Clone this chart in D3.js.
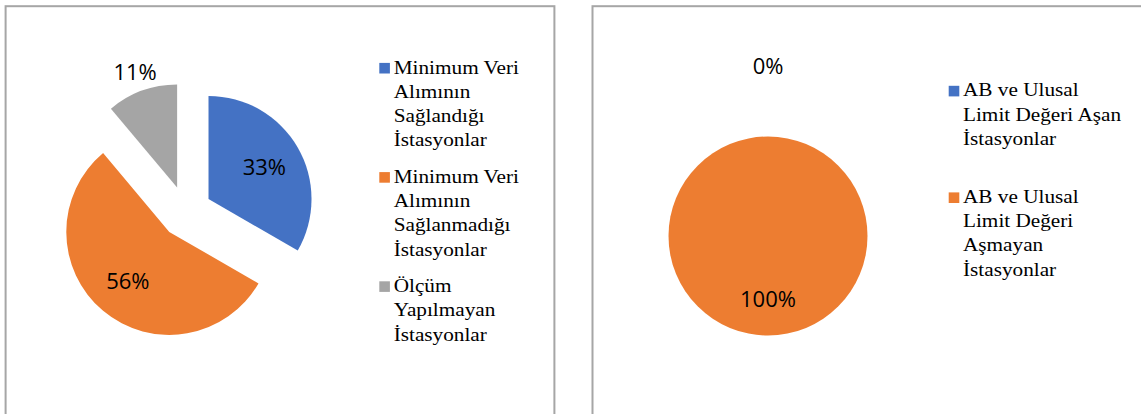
<!DOCTYPE html>
<html>
<head>
<meta charset="utf-8">
<script src="https://cdn.jsdelivr.net/npm/d3@7"></script>
<style>
  html, body { margin: 0; padding: 0; background: #fff; }
  svg { display: block; }
</style>
</head>
<body>
<svg id="chart" width="1141" height="414"></svg>
<script>
// ---------- data ----------
const leftCategories = [
  "Minimum Veri\nAlımının\nSağlandığı\nİstasyonlar",
  "Minimum Veri\nAlımının\nSağlanmadığı\nİstasyonlar",
  "Ölçüm\nYapılmayan\nİstasyonlar"
];
const leftValues = [33.33, 55.56, 11.11];

const rightCategories = [
  "AB ve Ulusal\nLimit Değeri Aşan\nİstasyonlar",
  "AB ve Ulusal\nLimit Değeri\nAşmayan\nİstasyonlar"
];
const rightValues = [0, 100];

const sliceColors = ["#4472C4", "#ED7D31", "#A5A5A5"];

// ---------- drawing ----------
const svg = d3.select("#chart");
const pct = d3.format(".0%");

// panel frames
svg.append("rect").attr("x", 5.6).attr("y", 6.2).attr("width", 548.8).attr("height", 430)
  .attr("fill", "none").attr("stroke", "#a6a6a6").attr("stroke-width", 2);
svg.append("rect").attr("x", 592.5).attr("y", 6.2).attr("width", 600).attr("height", 430)
  .attr("fill", "none").attr("stroke", "#a6a6a6").attr("stroke-width", 2);

function drawPie(opts) {
  const { values, cx, cy, r, explode, labelR, outerLabelR, outerThreshold } = opts;
  const total = d3.sum(values);
  const pie = d3.pie().sort(null).value(d => d)(values);
  const arc = d3.arc().innerRadius(0).outerRadius(r);
  const g = svg.append("g").attr("transform", `translate(${cx},${cy})`);

  pie.forEach((p, i) => {
    const mid = (p.startAngle + p.endAngle) / 2;
    const ox = explode * Math.sin(mid), oy = -explode * Math.cos(mid);
    if (p.endAngle > p.startAngle) {
      g.append("path")
        .attr("d", arc(p))
        .attr("transform", `translate(${ox},${oy})`)
        .attr("fill", sliceColors[i]);
    }
    const frac = p.value / total;
    const lr = frac < outerThreshold ? outerLabelR : labelR;
    g.append("text")
      .attr("x", lr * Math.sin(mid))
      .attr("y", -lr * Math.cos(mid))
      .attr("dy", "0.36em")
      .attr("text-anchor", "middle")
      .style("font-family", "'Open Sans', 'Noto Sans', sans-serif")
      .style("font-size", "22px")
      .attr("fill", "#000")
      .text(pct(frac));
  });
}

function drawLegend(opts) {
  const { categories, squareX, textX, firstBaseline, lineH, entryGap } = opts;
  let y = firstBaseline;
  categories.forEach((c, i) => {
    const lines = c.split("\n");
    svg.append("rect")
      .attr("x", squareX).attr("y", y - 10.6)
      .attr("width", 10.6).attr("height", 10.6)
      .attr("fill", sliceColors[i]);
    lines.forEach((ln, j) => {
      svg.append("text")
        .attr("transform", `translate(${textX},${y + j * lineH}) scale(1.09,1)`)
        .style("font-family", "'Liberation Serif', 'Times New Roman', serif")
        .style("font-size", "19.5px")
        .attr("fill", "#000")
        .text(ln);
    });
    y += lines.length * lineH + entryGap;
  });
}

// left chart
drawPie({ values: leftValues, cx: 186, cy: 212, r: 103, explode: 26,
          labelR: 90.5, outerLabelR: 149, outerThreshold: 0.2 });
drawLegend({ categories: leftCategories, squareX: 379.3, textX: 393.7,
             firstBaseline: 73.5, lineH: 24.3, entryGap: 12 });

// right chart
drawPie({ values: rightValues, cx: 768, cy: 236, r: 99.5, explode: 0,
          labelR: 63, outerLabelR: 169.5, outerThreshold: 0.001 });
drawLegend({ categories: rightCategories, squareX: 948.7, textX: 963,
             firstBaseline: 96.4, lineH: 24.2, entryGap: 34 });
</script>
</body>
</html>
